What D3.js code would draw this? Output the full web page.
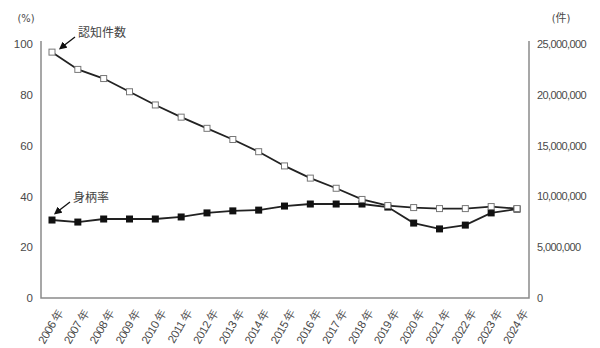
<!DOCTYPE html>
<html>
<head>
<meta charset="utf-8">
<script src="https://cdn.jsdelivr.net/npm/d3@7"></script>
<style>
  body { margin: 0; background: #fff; }
  svg { font-family: "DejaVu Sans Condensed", "Noto Sans CJK JP", sans-serif; }
  .tick text { fill: #4a4a4a; }
</style>
</head>
<body>
<svg width="600" height="348"></svg>
<script>
// Data
const years = ["2006", "2007", "2008", "2009", "2010", "2011", "2012", "2013", "2014", "2015",
               "2016", "2017", "2018", "2019", "2020", "2021", "2022", "2023", "2024"];
// 認知件数 (件)
const counts = [24200000, 22500000, 21600000, 20300000, 19000000, 17800000, 16700000, 15600000, 14400000, 13000000,
                11800000, 10800000, 9700000, 9100000, 8900000, 8800000, 8800000, 9000000, 8800000];
// 身柄率 (%)
const rates = [30.7, 29.9, 31.1, 31.1, 31.1, 31.9, 33.5, 34.3, 34.6, 36.2,
               37.0, 37.0, 37.0, 35.8, 29.5, 27.2, 28.7, 33.5, 35.0];
const leftTicks = [0, 20, 40, 60, 80, 100];
const rightTicks = [0, 5000000, 10000000, 15000000, 20000000, 25000000];

const margin = { top: 44, right: 71, bottom: 50, left: 41 };
const width = 600 - margin.left - margin.right;
const height = 348 - margin.top - margin.bottom;

const svg = d3.select("svg")
    .append("g")
    .attr("transform", `translate(${margin.left}, ${margin.top})`);

// Scales
const x = d3.scalePoint()
    .domain(years)
    .range([11, width - 12]);

const yLeft = d3.scaleLinear().domain([0, 100]).range([height, 0]);
const yRight = d3.scaleLinear().domain([0, 25000000]).range([height, 0]);

// Frame lines (left, bottom, right)
svg.append("path")
    .attr("d", `M0,-3V${height}H${width}V-3`)
    .attr("fill", "none")
    .attr("stroke", "#8a8a8a")
    .attr("stroke-width", 1.5);

// Left axis
svg.append("g")
    .call(d3.axisLeft(yLeft).tickValues(leftTicks).tickSize(0).tickPadding(8))
    .call(g => g.select(".domain").remove())
    .selectAll("text")
    .style("font-size", "11.5px");

// Right axis
svg.append("g")
    .attr("transform", `translate(${width}, 0)`)
    .call(d3.axisRight(yRight).tickValues(rightTicks).tickSize(0).tickPadding(8)
        .tickFormat(d => d === 0 ? "0" : d3.format(",")(d)))
    .call(g => g.select(".domain").remove())
    .selectAll("text")
    .style("font-size", "11px")
    .attr("letter-spacing", "-0.6px");

// Bottom axis with rotated labels
svg.append("g")
    .attr("transform", `translate(0, ${height})`)
    .call(d3.axisBottom(x).tickSize(0).tickFormat(d => d + " 年"))
    .call(g => g.select(".domain").remove())
    .selectAll("text")
    .style("font-size", "11.5px")
    .attr("letter-spacing", "-0.4px")
    .attr("text-anchor", "end")
    .attr("dy", "0.35em")
    .attr("transform", "translate(5, 10) rotate(-60)");

// Unit labels
svg.append("text")
    .attr("x", -15).attr("y", -22)
    .attr("text-anchor", "middle")
    .attr("fill", "#4a4a4a")
    .style("font-size", "11px")
    .text("(%)");

svg.append("text")
    .attr("x", width + 32).attr("y", -22)
    .attr("text-anchor", "middle")
    .attr("fill", "#4a4a4a")
    .style("font-size", "11px")
    .text("(件)");

// Lines
const lineCount = d3.line()
    .x((d, i) => x(years[i]))
    .y(d => yRight(d));

const lineRate = d3.line()
    .x((d, i) => x(years[i]))
    .y(d => yLeft(d));

svg.append("path")
    .datum(counts)
    .attr("d", lineCount)
    .attr("fill", "none")
    .attr("stroke", "#222")
    .attr("stroke-width", 1.8);

svg.append("path")
    .datum(rates)
    .attr("d", lineRate)
    .attr("fill", "none")
    .attr("stroke", "#222")
    .attr("stroke-width", 1.8);

// Markers
svg.selectAll(".rate-pt")
    .data(rates)
    .enter()
    .append("rect")
    .attr("class", "rate-pt")
    .attr("x", (d, i) => x(years[i]) - 3.5)
    .attr("y", d => yLeft(d) - 3.5)
    .attr("width", 7)
    .attr("height", 7)
    .attr("fill", "#111");

svg.selectAll(".count-pt")
    .data(counts)
    .enter()
    .append("rect")
    .attr("class", "count-pt")
    .attr("x", (d, i) => x(years[i]) - 3)
    .attr("y", d => yRight(d) - 3)
    .attr("width", 6)
    .attr("height", 6)
    .attr("fill", "#fff")
    .attr("stroke", "#777")
    .attr("stroke-width", 1);

// Annotations
svg.append("defs").append("marker")
    .attr("id", "arrow")
    .attr("viewBox", "0 0 10 10")
    .attr("refX", 5).attr("refY", 5)
    .attr("markerWidth", 6).attr("markerHeight", 6)
    .attr("orient", "auto")
    .append("path")
    .attr("d", "M0,0L10,5L0,10z")
    .attr("fill", "#111");

function note(label, tx, ty, x1, y1, x2, y2) {
    svg.append("line")
        .attr("x1", x1).attr("y1", y1)
        .attr("x2", x2).attr("y2", y2)
        .attr("stroke", "#111")
        .attr("stroke-width", 1.3)
        .attr("marker-end", "url(#arrow)");
    svg.append("text")
        .attr("x", tx).attr("y", ty)
        .attr("fill", "#444")
        .style("font-size", "12px")
        .text(label);
}

note("認知件数", 37, -7, 34, -7, 21, 3);
note("身柄率", 32, 158, 29, 158, 16, 168);
</script>
</body>
</html>
